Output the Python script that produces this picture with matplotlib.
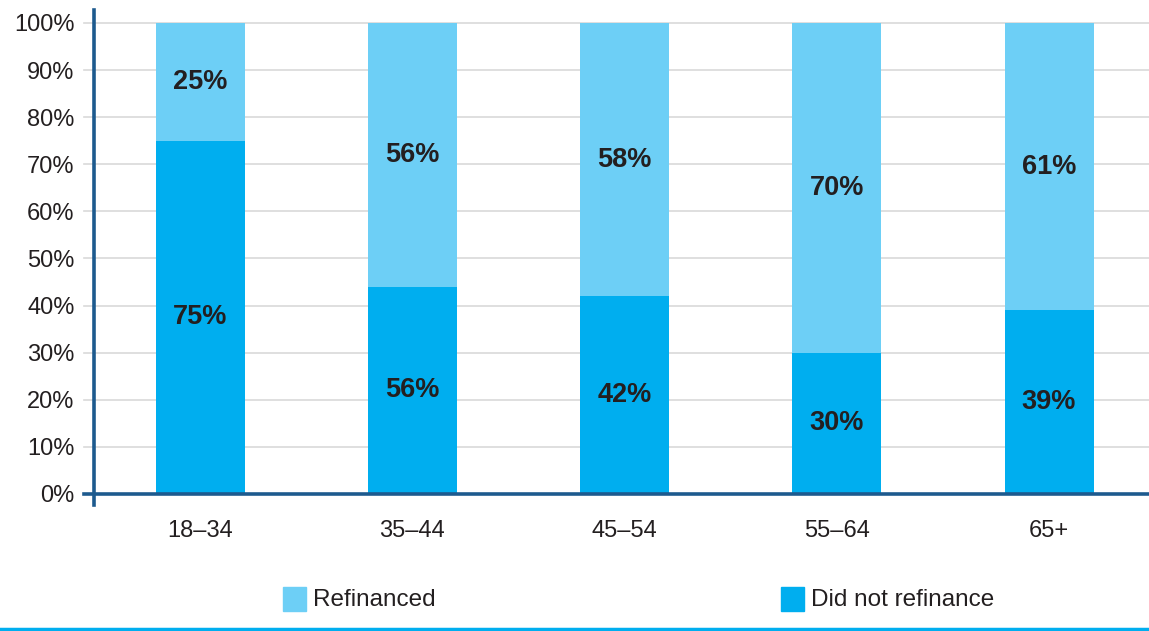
import matplotlib
matplotlib.use("Agg")
import matplotlib.pyplot as plt
from matplotlib.patches import Rectangle
from matplotlib.lines import Line2D
import matplotlib.transforms as mtransforms

plt.rcParams['font.family'] = ['Liberation Sans', 'DejaVu Sans']

# Share of borrowers by age band
age_groups = ["18–34", "35–44", "45–54", "55–64", "65+"]
did_not_refinance = [75, 44, 42, 30, 39]
refinanced = [25, 56, 58, 70, 61]
# Printed segment labels
did_not_labels = ["75%", "56%", "42%", "30%", "39%"]
refinanced_labels = ["25%", "56%", "58%", "70%", "61%"]
y_ticks = [0, 10, 20, 30, 40, 50, 60, 70, 80, 90, 100]
y_tick_labels = [f"{t}%" for t in y_ticks]

LIGHT = "#6dcff6"
DARK = "#00aeef"
AXIS = "#1d5a8e"
GRID = "#d9d9d9"
TEXT = "#231f20"

W, H = 1149, 631
fig = plt.figure(figsize=(W / 100, H / 100), dpi=100)
ax = fig.add_axes([94 / W, (H - 505) / H, (W - 94) / W, (505 - 10) / H])

x = list(range(len(age_groups)))
bw = 0.419
ax.bar(x, did_not_refinance, width=bw, color=DARK, zorder=3)
ax.bar(x, refinanced, width=bw, bottom=did_not_refinance, color=LIGHT, zorder=3)

for i in x:
    lo = did_not_refinance[i]
    hi = lo + refinanced[i]
    ax.text(i, lo / 2, did_not_labels[i], ha="center", va="center",
            fontsize=19.5, fontweight="bold", color=TEXT, zorder=4)
    ax.text(i, (lo + hi) / 2, refinanced_labels[i], ha="center", va="center",
            fontsize=19.5, fontweight="bold", color=TEXT, zorder=4)

ax.set_xlim(-0.5, 4.471)
ax.set_ylim(-2.34, 102.76)
for s in ax.spines.values():
    s.set_visible(False)
ax.set_xticks([])
ax.set_yticks(y_ticks)
ax.set_yticklabels(y_tick_labels, fontsize=17, color=TEXT)
ax.tick_params(axis="y", length=0, pad=14)

# gridlines extend slightly left of the axis line
trans = mtransforms.blended_transform_factory(ax.transAxes, ax.transData)
x0 = -10 / (W - 94)
for t in y_ticks[1:]:
    ax.add_line(Line2D([x0, 1], [t, t], transform=trans, color=GRID,
                       lw=1.2, zorder=1, clip_on=False))
ax.add_line(Line2D([x0, 1], [0, 0], transform=trans, color=AXIS,
                   lw=2.6, zorder=5, clip_on=False))
ax.add_line(Line2D([0, 0], [0, 1], transform=ax.transAxes, color=AXIS,
                   lw=2.6, zorder=5, clip_on=False))

for i, lab in enumerate(age_groups):
    ax.text(i, -7.85, lab, ha="center", va="center", fontsize=17, color=TEXT)

# legend
def legend_item(px, label, color):
    fig.patches.append(Rectangle((px / W, (H - 611) / H), 23 / W, 24 / H,
                                 transform=fig.transFigure, color=color))
    fig.text((px + 30) / W, (H - 600) / H, label, ha="left", va="center",
             fontsize=17.5, color=TEXT)

legend_item(283, "Refinanced", LIGHT)
legend_item(781, "Did not refinance", DARK)

fig.add_artist(Line2D([0, 1], [(H - 629) / H, (H - 629) / H],
                      transform=fig.transFigure, color=DARK, lw=2.5))

fig.savefig("out.png", dpi=100)
